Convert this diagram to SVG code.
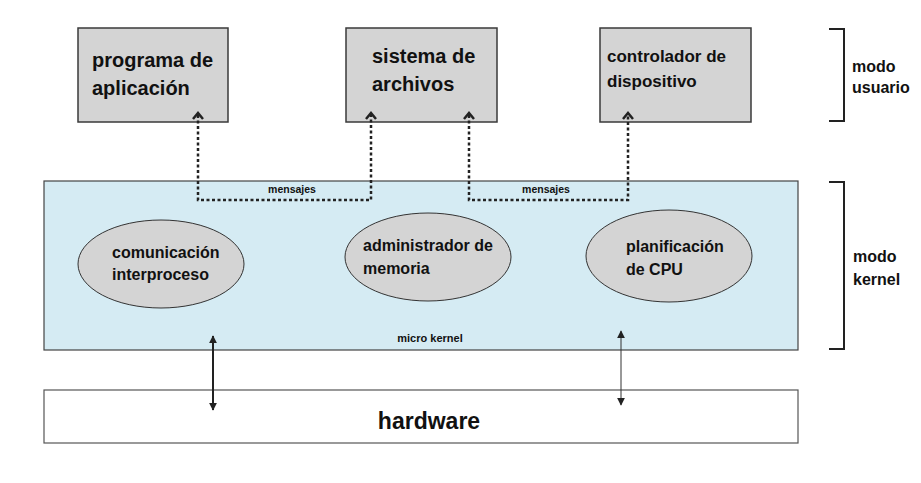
<svg xmlns="http://www.w3.org/2000/svg" width="921" height="483" viewBox="0 0 921 483">
<defs>
<style>
.box{fill:#d4d4d4;stroke:#3a3a3a;stroke-width:1.5}
.ell{fill:#d4d4d4;stroke:#333;stroke-width:1}
.t{font-family:"Liberation Sans",Arial,sans-serif;font-weight:bold;fill:#111}
.dot{fill:none;stroke:#222;stroke-width:2.5;stroke-dasharray:3 2.5}
.chev{fill:none;stroke:#222;stroke-width:2.5}
.br{fill:none;stroke:#222;stroke-width:2}
</style>
<marker id="ah" viewBox="0 0 10 10" refX="9" refY="5" markerWidth="8" markerHeight="8" orient="auto-start-reverse" markerUnits="userSpaceOnUse">
<path d="M0,0 L10,5 L0,10 z" fill="#222"/>
</marker>
</defs>
<rect width="921" height="483" fill="#fff"/>

<g id="kernel">
<rect x="44" y="181" width="754" height="169" fill="#d5ebf3" stroke="#444" stroke-width="1.2"/>
<text class="t" x="430" y="342" font-size="11" font-weight="normal" text-anchor="middle">micro kernel</text>
</g>

<g id="hardware">
<rect x="44" y="390" width="754" height="53" fill="#fff" stroke="#555" stroke-width="1.2"/>
<text class="t" x="429" y="429" font-size="23" text-anchor="middle">hardware</text>
</g>

<g id="programa">
<rect class="box" x="78" y="28" width="150" height="94"/>
<text class="t" x="92" y="67" font-size="20">programa de</text>
<text class="t" x="92" y="95" font-size="20">aplicación</text>
</g>

<g id="sistema">
<rect class="box" x="346" y="28" width="151" height="94"/>
<text class="t" x="372" y="63" font-size="20">sistema de</text>
<text class="t" x="372" y="91" font-size="20">archivos</text>
</g>

<g id="controlador">
<rect class="box" x="600" y="28" width="151" height="94"/>
<text class="t" x="607" y="62" font-size="17">controlador de</text>
<text class="t" x="607" y="87" font-size="17">dispositivo</text>
</g>

<g id="comunicacion">
<ellipse class="ell" cx="161" cy="264" rx="83" ry="44"/>
<text class="t" x="112" y="258" font-size="16">comunicación</text>
<text class="t" x="112" y="280" font-size="16">interproceso</text>
</g>

<g id="administrador">
<ellipse class="ell" cx="428" cy="257" rx="83" ry="44"/>
<text class="t" x="363" y="251" font-size="16">administrador de</text>
<text class="t" x="363" y="274" font-size="16">memoria</text>
</g>

<g id="planificacion">
<ellipse class="ell" cx="669" cy="256" rx="83" ry="46"/>
<text class="t" x="626" y="252" font-size="16">planificación</text>
<text class="t" x="626" y="275" font-size="16">de CPU</text>
</g>

<g id="modo-usuario">
<path class="br" d="M829,29 H844 V121 H829"/>
<text class="t" x="852" y="72" font-size="16">modo</text>
<text class="t" x="852" y="93" font-size="16">usuario</text>
</g>

<g id="modo-kernel">
<path class="br" d="M829,182 H844 V349 H829"/>
<text class="t" x="853" y="262" font-size="16">modo</text>
<text class="t" x="853" y="285" font-size="16">kernel</text>
</g>

<g id="connectors">
<path class="dot" d="M198,115 V200 H371 V115"/>
<path class="dot" d="M469,115 V200 H628 V115"/>
<path class="chev" d="M193,119 L198,113 L203,119"/>
<path class="chev" d="M366,119 L371,113 L376,119"/>
<path class="chev" d="M464,119 L469,113 L474,119"/>
<path class="chev" d="M623,119 L628,113 L633,119"/>
<text class="t" x="292" y="193" font-size="10.5" font-weight="normal" text-anchor="middle">mensajes</text>
<text class="t" x="546" y="193" font-size="10.5" font-weight="normal" text-anchor="middle">mensajes</text>
<line x1="213" y1="336" x2="213" y2="410" stroke="#222" stroke-width="2" marker-start="url(#ah)" marker-end="url(#ah)"/>
<line x1="621" y1="331" x2="621" y2="405" stroke="#333" stroke-width="1" marker-start="url(#ah)" marker-end="url(#ah)"/>
</g>
</svg>
